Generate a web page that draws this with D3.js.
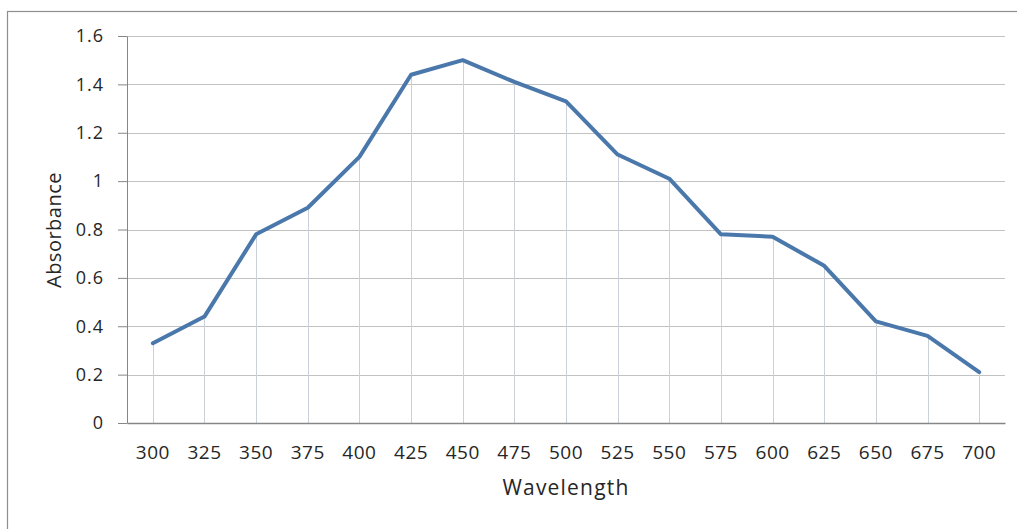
<!DOCTYPE html>
<html>
<head>
<meta charset="utf-8">
<script src="https://cdn.jsdelivr.net/npm/d3@7/dist/d3.min.js"></script>
<style>
  body { margin: 0; background: #fff; }
  text { font-family: "Open Sans", "Noto Sans", sans-serif; fill: #262626; }
</style>
</head>
<body>
<div id="chart"></div>
<script>
// data
var wavelengths = ["300", "325", "350", "375", "400", "425", "450", "475", "500",
                   "525", "550", "575", "600", "625", "650", "675", "700"];
var absorbance = [0.33, 0.44, 0.78, 0.89, 1.10, 1.44, 1.50, 1.41, 1.33,
                  1.11, 1.01, 0.78, 0.77, 0.65, 0.42, 0.36, 0.21];
var yTicks = [0, 0.2, 0.4, 0.6, 0.8, 1, 1.2, 1.4, 1.6];

var W = 1017, H = 529;
var margin = {top: 36, right: 12, bottom: 106, left: 127};

var svg = d3.select("#chart").append("svg")
    .attr("width", W)
    .attr("height", H);

// chart border (only left and top are in view)
svg.append("rect")
    .attr("x", 7.5).attr("y", 11.5)
    .attr("width", 1200).attr("height", 700)
    .attr("fill", "none")
    .attr("stroke", "#8e8e8e")
    .attr("stroke-width", 1.2);

var x = d3.scaleBand()
    .domain(wavelengths)
    .range([margin.left, W - margin.right]);

var y = d3.scaleLinear()
    .domain([0, 1.6])
    .range([H - margin.bottom, margin.top]);

var cx = function(d){ return x(d) + x.bandwidth() / 2; };

// horizontal gridlines
svg.append("g")
    .selectAll("line")
    .data(yTicks.filter(function(d){ return d > 0; }))
    .enter().append("line")
    .attr("x1", margin.left).attr("x2", W - margin.right)
    .attr("y1", function(d){ return Math.round(y(d)) + 0.5; })
    .attr("y2", function(d){ return Math.round(y(d)) + 0.5; })
    .attr("stroke", "#c2c2c2")
    .attr("stroke-width", 1);

// drop lines
svg.append("g")
    .selectAll("line")
    .data(wavelengths)
    .enter().append("line")
    .attr("x1", function(d){ return Math.round(cx(d)) + 0.5; })
    .attr("x2", function(d){ return Math.round(cx(d)) + 0.5; })
    .attr("y1", function(d, i){ return y(absorbance[i]); })
    .attr("y2", y(0))
    .attr("stroke", "#cbd1d8")
    .attr("stroke-width", 1);

// y axis
var yAxis = svg.append("g")
    .attr("transform", "translate(" + margin.left + ",0)")
    .call(d3.axisLeft(y)
        .tickValues(yTicks)
        .tickFormat(d3.format("~g"))
        .tickSize(9)
        .tickSizeOuter(0)
        .tickPadding(14));
yAxis.selectAll("line, path").attr("stroke", "#868686");
yAxis.selectAll("text").style("font-size", "18px").style("letter-spacing", "1px");

// x axis
var xAxis = svg.append("g")
    .attr("transform", "translate(0," + y(0) + ")")
    .call(d3.axisBottom(x).tickSize(0).tickSizeOuter(0).tickPadding(23));
xAxis.select("path").attr("stroke", "#868686").attr("stroke-width", 1.5);
xAxis.selectAll("text").style("font-size", "19px").style("letter-spacing", "0.5px");

// the series line
var line = d3.line()
    .x(function(d, i){ return cx(wavelengths[i]); })
    .y(function(d){ return y(d); });

svg.append("path")
    .datum(absorbance)
    .attr("d", line)
    .attr("fill", "none")
    .attr("stroke", "#4a78ab")
    .attr("stroke-width", 4)
    .attr("stroke-linejoin", "round")
    .attr("stroke-linecap", "round");

// axis titles
svg.append("text")
    .attr("x", (margin.left + W - margin.right) / 2)
    .attr("y", 495)
    .attr("text-anchor", "middle")
    .style("font-size", "21px")
    .style("letter-spacing", "1.2px")
    .text("Wavelength");

svg.append("text")
    .attr("transform", "translate(61,230) rotate(-90)")
    .attr("text-anchor", "middle")
    .style("font-size", "20px")
    .style("letter-spacing", "0.5px")
    .text("Absorbance");
</script>
</body>
</html>
